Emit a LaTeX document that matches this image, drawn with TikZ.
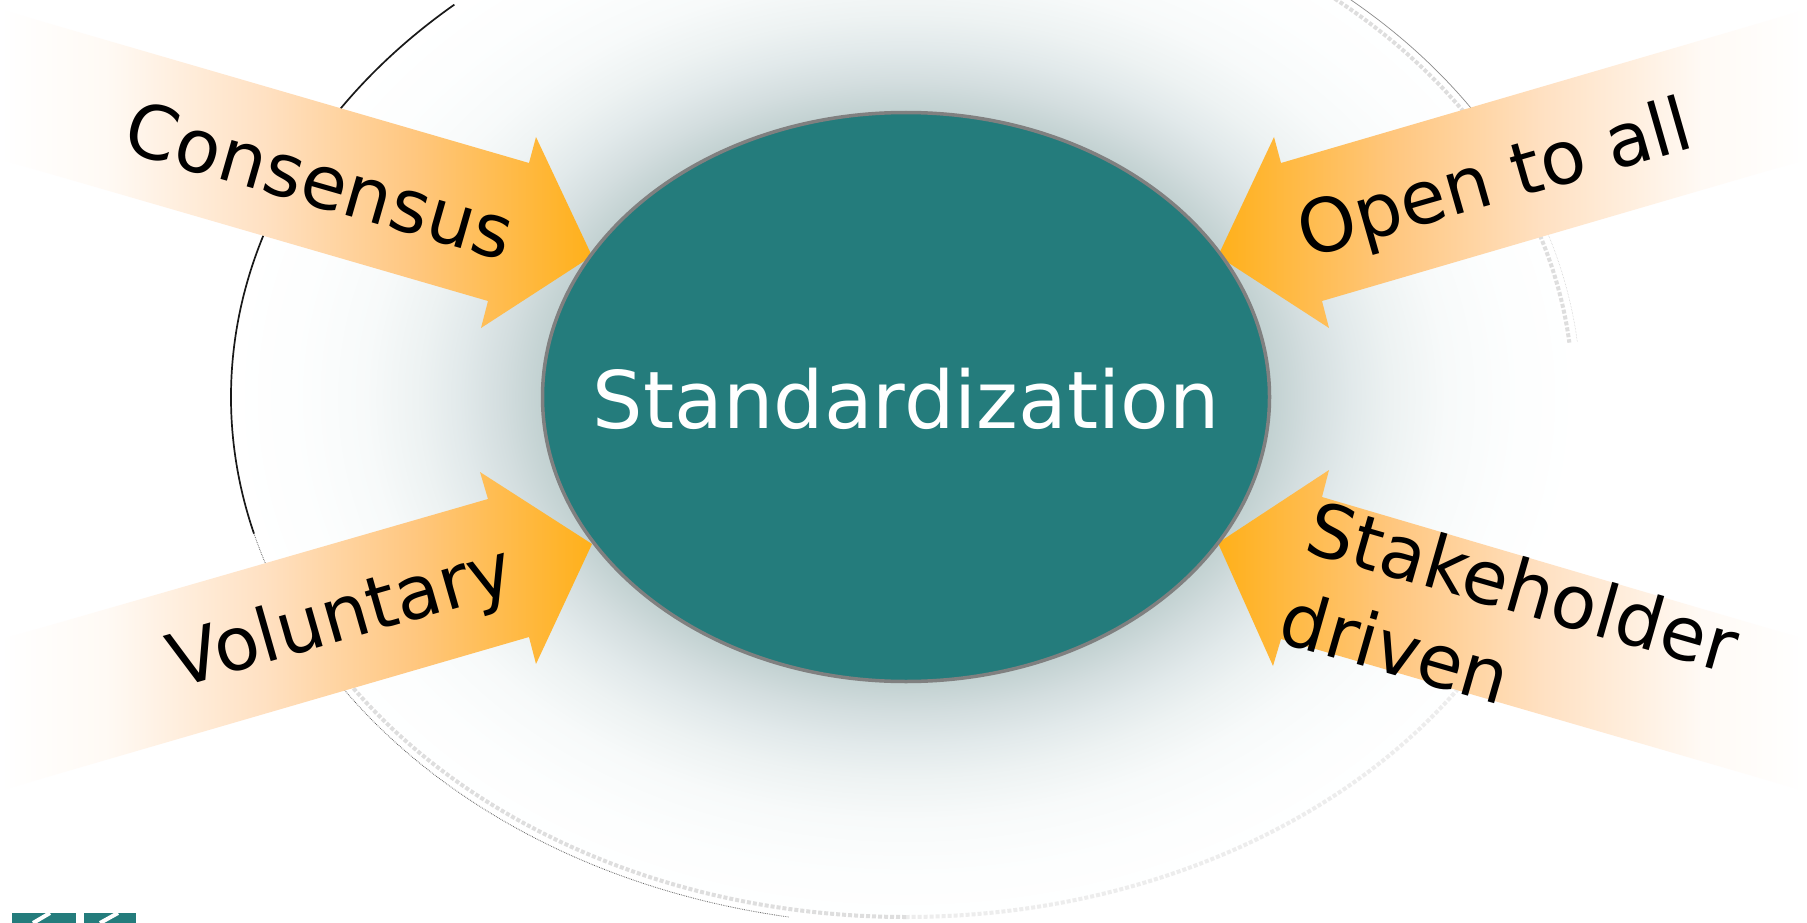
\documentclass[tikz,border=0pt]{standalone}
\usepackage{fontspec}
\setmainfont{DejaVu Sans}
\usetikzlibrary{shapes.geometric}
\definecolor{teal1}{HTML}{247C7C}
\definecolor{ringgray}{HTML}{808080}
\pgfdeclareradialshading{glowshade}{\pgfpointorigin}{
 rgb(0bp)=(0.76,0.82,0.82);
 rgb(13.5bp)=(0.76,0.82,0.82);
 rgb(15bp)=(0.83,0.87,0.875);
 rgb(16.5bp)=(0.885,0.915,0.92);
 rgb(18bp)=(0.93,0.95,0.95);
 rgb(20bp)=(0.97,0.98,0.98);
 rgb(22.5bp)=(0.99,0.995,0.995);
 rgb(25bp)=(1,1,1);
 rgb(50bp)=(1,1,1)}
\pgfdeclarehorizontalshading{fadeR}{100bp}{
 rgb(0bp)=(1,1,1);
 rgb(25bp)=(1,1,1);
 rgb(34bp)=(1,0.98,0.96);
 rgb(47.5bp)=(1,0.88,0.76);
 rgb(60bp)=(1,0.78,0.50);
 rgb(75bp)=(1,0.69,0.10);
 rgb(100bp)=(1,0.69,0.10)}
\pgfdeclarehorizontalshading{fadeL}{100bp}{
 rgb(0bp)=(1,0.69,0.10);
 rgb(25bp)=(1,0.69,0.10);
 rgb(40bp)=(1,0.78,0.50);
 rgb(52.5bp)=(1,0.88,0.76);
 rgb(66bp)=(1,0.98,0.96);
 rgb(75bp)=(1,1,1);
 rgb(100bp)=(1,1,1)}
\tikzset{
 x=1pt,y=-1pt,
 glow/.style={shading=glowshade},
 mainoval/.style={ellipse,draw=ringgray,line width=3.5pt,fill=teal1,inner sep=0pt},
 arrowR/.style={shading=fadeR},
 arrowL/.style={shading=fadeL},
 lbl/.style={font=\fontsize{74}{80}\selectfont,inner sep=0pt,text=black},
 mainlbl/.style={font=\fontsize{79.5}{90}\selectfont,inner sep=0pt,text=white},
 edgeink/.style={black!90,line width=1.7pt},
 edgefaint/.style={black!60,line width=0.8pt,densely dotted},
 edgepale/.style={black!13,line width=4pt,dotted},
 edgepaler/.style={black!7,line width=4pt,dotted},
 rimarc/.style={x radius=675,y radius=528},
 innerarc/.style={x radius=667,y radius=520}
}
\begin{document}
\begin{tikzpicture}
\useasboundingbox (0,0) rectangle (1807,923);
\fill[white] (0,0) rectangle (1807,923);
\begin{scope}
\clip (0,0) rectangle (1807,923);
\coordinate (ctr) at (906,397);
\shade[glow] (ctr) ellipse [rimarc];
% outer rim, inner speckle
\draw[edgepale] (ctr) ++(-50:667 and 520) arc[start angle=-50,end angle=-6,innerarc];
\draw[edgepaler] (ctr) ++(28:667 and 520) arc[start angle=28,end angle=90,innerarc];
\draw[edgepale] (ctr) ++(90:667 and 520) arc[start angle=90,end angle=152,innerarc];
\draw[edgeink] (ctr) ++(228:675 and 528) arc[start angle=228,end angle=165,rimarc];
\draw[edgefaint] (ctr) ++(165:675 and 528) arc[start angle=165,end angle=100,rimarc];
\draw[black!45,line width=0.7pt] (ctr) ++(-50:675 and 528) arc[start angle=-50,end angle=-28,rimarc];
\draw[black!22,line width=0.5pt,densely dotted] (ctr) ++(-28:675 and 528) arc[start angle=-28,end angle=-6,rimarc];
% arrows
\shade[arrowR] (-1,9) -- (529,163) -- (536,137) -- (592,256) -- (481,328) -- (488,301) -- (-1,159) -- cycle;
\shade[arrowR] (-1,640) -- (488,499) -- (480,472) -- (592,544) -- (536,664) -- (529,637) -- (-1,791) -- cycle;
\shade[arrowL] (1808,9) -- (1281,163) -- (1274,137) -- (1218,256) -- (1329,328) -- (1322,301) -- (1808,159) -- cycle;
\shade[arrowL] (1808,640) -- (1322,497) -- (1329,470) -- (1218,543) -- (1273,666) -- (1281,639) -- (1808,792) -- cycle;
\end{scope}
\node[mainoval,minimum width=727pt,minimum height=569pt] (core) at (906,397) {};
\node[mainlbl] (corelbl) at (906,399) {Standardization};
\node[lbl,rotate=-16] (consensus) at (320,180) {Consensus};
\node[lbl,rotate=16] (voluntary) at (342,620) {Voluntary};
\node[lbl,rotate=16] (open) at (1496,183) {Open to all};
\node[lbl,rotate=-16] (stake) at (1523,586) {Stakeholder};
\node[lbl,rotate=-16] (driven) at (1396,647) {driven};
% logo
\fill[teal1] (12,913) rectangle (76,923);
\fill[teal1] (84,913) rectangle (136,923);
\draw[white,line width=4pt] (33,923) -- (50,913);
\draw[white,line width=4pt] (100,923) -- (118,913);
\end{tikzpicture}
\end{document}
